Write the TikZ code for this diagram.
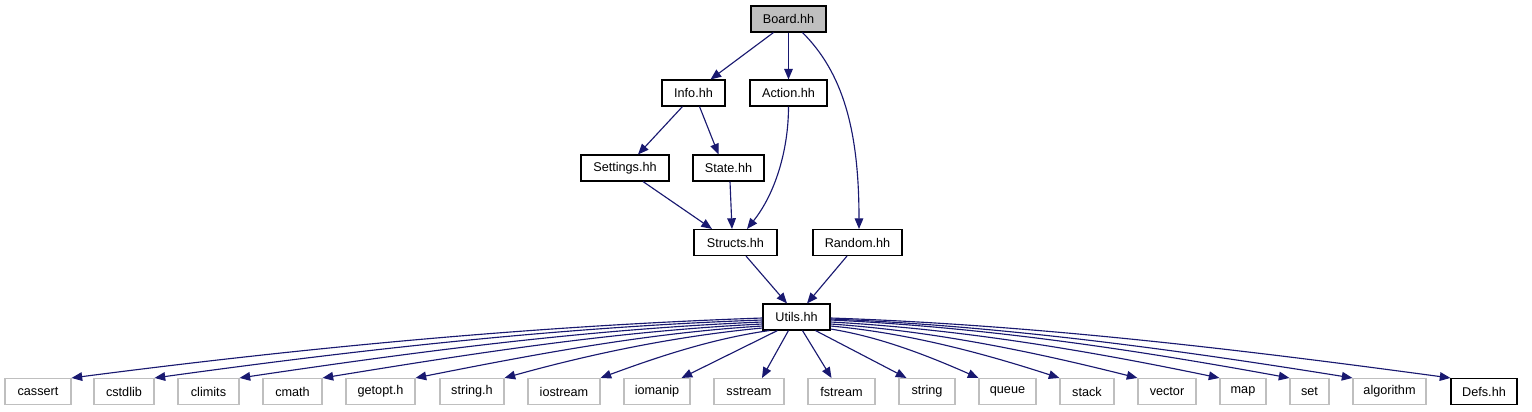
\documentclass[tikz,border=0pt]{standalone}
\usepackage{fontspec}
\setmainfont{Liberation Sans}
\usetikzlibrary{arrows.meta,calc}
\definecolor{edgeblue}{HTML}{191970}
\definecolor{sysgray}{HTML}{BFBFBF}
\begin{document}
\begin{tikzpicture}[x=0.75pt,y=-0.75pt,
  hdr/.style={draw=black, line width=0.8pt, minimum height=26*0.75pt, inner sep=0pt, font=\fontsize{9.5}{11}\selectfont},
  sys/.style={hdr, draw=sysgray},
  bw/.style={minimum width=#1*0.75pt},
  edge/.style={draw=edgeblue, line width=0.85pt, -{Triangle[length=8pt,width=6.5pt]}}]
\useasboundingbox (0,0) rectangle (1532,411);
% upper nodes
\node[hdr, bw=75, fill=sysgray] (board) at (788.5,19) {Board.hh};
\node[hdr, bw=63] (info) at (693.5,93) {Info.hh};
\node[hdr, bw=77] (action) at (788.5,93) {Action.hh};
\node[hdr, bw=88] (settings) at (625,168) {Settings.hh};
\node[hdr, bw=71] (state) at (728.5,168) {State.hh};
\node[hdr, bw=83] (structs) at (735.5,242.5) {Structs.hh};
\node[hdr, bw=89] (random) at (857.5,242.5) {Random.hh};
\node[hdr, bw=67] (utils) at (796.5,317) {Utils.hh};
% bottom row
\node[sys, bw=66] (cassert) at (38,391.5) {cassert};
\node[sys, bw=60] (cstdlib) at (124,391.5) {cstdlib};
\node[sys, bw=61] (climits) at (208.5,391.5) {climits};
\node[sys, bw=59] (cmath) at (292.5,391.5) {cmath};
\node[sys, bw=69] (getopt) at (380.5,391.5) {getopt.h};
\node[sys, bw=64] (stringh) at (472,391.5) {string.h};
\node[sys, bw=72] (iostream) at (564,391.5) {iostream};
\node[sys, bw=66] (iomanip) at (657,391.5) {iomanip};
\node[sys, bw=70] (sstream) at (749,391.5) {sstream};
\node[sys, bw=67] (fstream) at (841.5,391.5) {fstream};
\node[sys, bw=56] (string) at (927,391.5) {string};
\node[sys, bw=57] (queue) at (1007.5,391.5) {queue};
\node[sys, bw=54] (stack) at (1087,391.5) {stack};
\node[sys, bw=58] (vector) at (1167,391.5) {vector};
\node[sys, bw=46] (map) at (1243,391.5) {map};
\node[sys, bw=39] (set) at (1309.5,391.5) {set};
\node[sys, bw=73] (algorithm) at (1389.5,391.5) {algorithm};
\node[hdr, bw=66] (defs) at (1484,391.5) {Defs.hh};
% upper edges
\draw[edge] ($(board.south)+(-15,0)$) -- ($(info.north)+(17,0)$);
\draw[edge] (board.south) -- (action.north);
\draw[edge] ($(board.south)+(14,0)$) .. controls +(40,40) and +(0,-100) .. ($(random.north)+(1.5,0)$);
\draw[edge] ($(info.south)+(-11,0)$) -- ($(settings.north)+(13,0)$);
\draw[edge] ($(info.south)+(6,0)$) -- ($(state.north)+(-10,0)$);
\draw[edge] (action.south) .. controls +(0,44) and +(28,-35) .. ($(structs.north)+(11.5,0)$);
\draw[edge] ($(settings.south)+(18,0)$) -- ($(structs.north)+(-23.5,0)$);
\draw[edge] ($(state.south)+(1.5,0)$) -- ($(structs.north)+(-3.5,0)$);
\draw[edge] ($(structs.south)+(10.5,0)$) -- ($(utils.north)+(-9.5,0)$);
\draw[edge] ($(random.south)+(-10.5,0)$) -- ($(utils.north)+(10.5,0)$);
% lower edges, left
\draw[edge] ($(utils.west)+(0,1)$) .. controls +(-231,8) and +(231,-30) .. (cassert.north east);
\draw[edge] ($(utils.west)+(0,3)$) .. controls +(-203,7) and +(203,-28) .. (cstdlib.north east);
\draw[edge] ($(utils.west)+(0,5)$) .. controls +(-175,7) and +(175,-26) .. (climits.north east);
\draw[edge] ($(utils.west)+(0,7)$) .. controls +(-147,7) and +(147,-24) .. (cmath.north east);
\draw[edge] ($(utils.west)+(0,9)$) .. controls +(-116,7) and +(116,-23) .. (getopt.north east);
\draw[edge] ($(utils.west)+(0,11)$) .. controls +(-86,8) and +(86,-24) .. (stringh.north east);
\draw[edge] ($(utils.south west)+(7,0)$) .. controls +(-57,8) and +(57,-21) .. (iostream.north east);
\draw[edge] ($(utils.south west)+(15,0)$) -- ($(iomanip.north east)+(-9,0)$);
\draw[edge] ($(utils.south west)+(26,0)$) -- ($(sstream.north)+(13,0)$);
% lower edges, right
\draw[edge] ($(utils.south west)+(40,0)$) -- ($(fstream.north)+(-10,0)$);
\draw[edge] ($(utils.south west)+(53,0)$) -- ($(string.north west)+(8,0)$);
\draw[edge] ($(utils.east)+(0,12)$) .. controls +(50,8) and +(-50,-22) .. (queue.north west);
\draw[edge] ($(utils.east)+(0,9)$) .. controls +(77,7) and +(-77,-25) .. (stack.north west);
\draw[edge] ($(utils.east)+(0,7)$) .. controls +(103,7) and +(-103,-26) .. (vector.north west);
\draw[edge] ($(utils.east)+(0,5)$) .. controls +(130,7) and +(-130,-27) .. (map.north west);
\draw[edge] ($(utils.east)+(0,3)$) .. controls +(153,7) and +(-153,-28) .. (set.north west);
\draw[edge] ($(utils.east)+(0,2)$) .. controls +(174,7) and +(-174,-28) .. (algorithm.north west);
\draw[edge] ($(utils.east)+(0,1)$) .. controls +(207,7) and +(-207,-28) .. (defs.north west);
\end{tikzpicture}
\end{document}
